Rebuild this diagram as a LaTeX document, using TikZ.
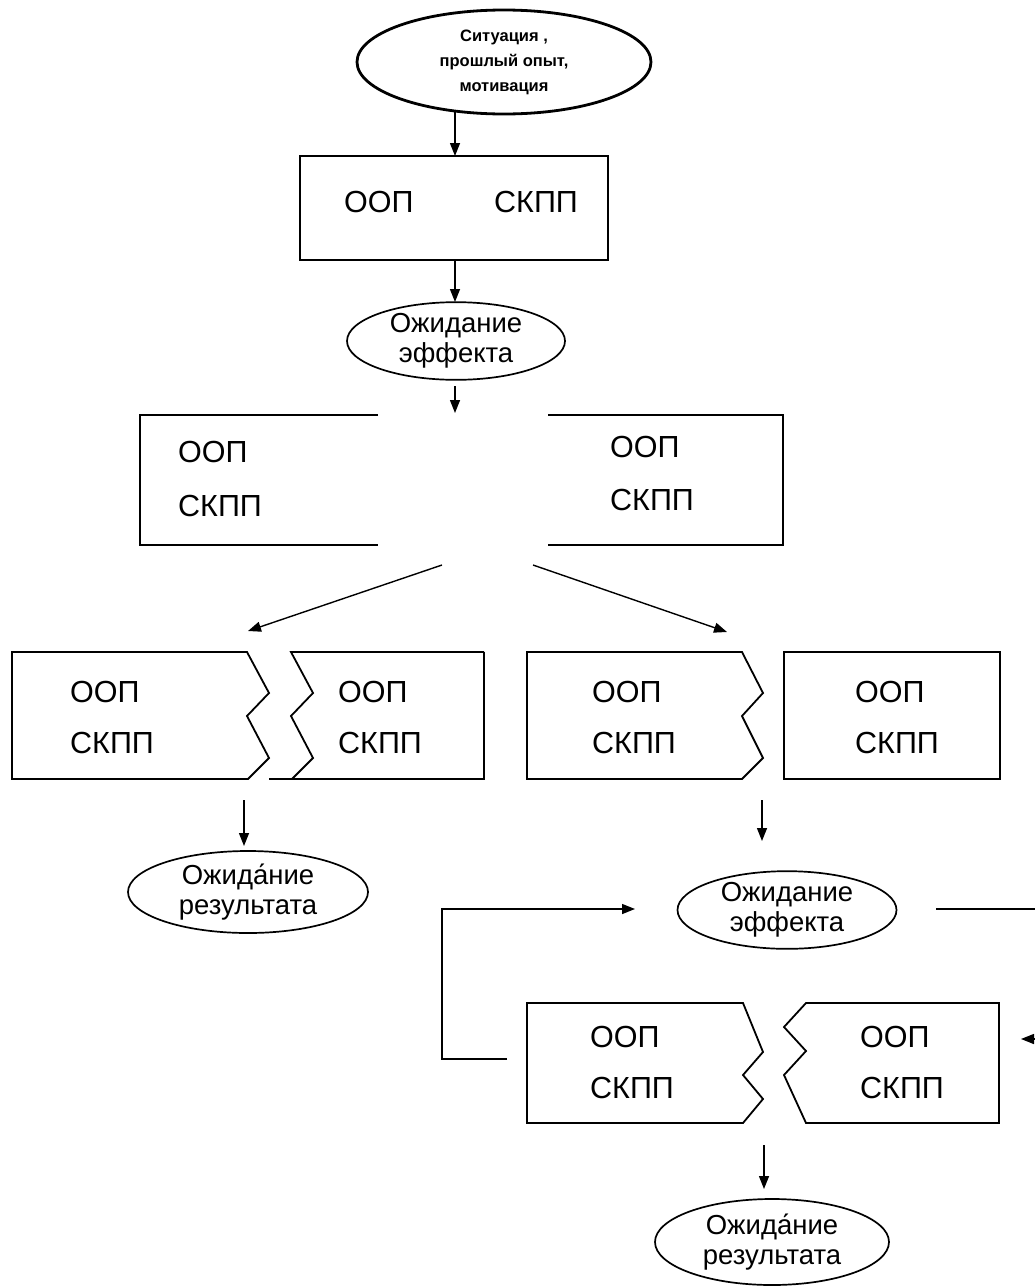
\documentclass[tikz,border=0pt]{standalone}
\usepackage{fontspec}
\setmainfont{Liberation Sans}
\usetikzlibrary{arrows.meta,shapes.geometric}
\begin{document}
\begin{tikzpicture}[x=1pt,y=-1pt,
  lbl/.style={font=\fontsize{30.5}{30}\selectfont, inner sep=0pt, anchor=west},
  eltxt/.style={ellipse, draw, line width=1.7pt, inner sep=0pt, align=center, font=\fontsize{27.5}{30}\selectfont},
  outline/.style={line width=1.8pt, line join=miter},
  arr/.style={-{Triangle[length=13pt,width=10pt]}, line width=1.4pt},
  plain/.style={line width=1.4pt}]
\fill[white] (0,0) rectangle (1035,1288);
\useasboundingbox (0,0) rectangle (1035,1288);

% top ellipse
\node[eltxt, line width=2.8pt, minimum width=294pt, minimum height=104pt,
      font=\bfseries\fontsize{16.5}{25}\selectfont] (sit) at (504,62) {Ситуация ,\\прошлый опыт,\\мотивация};
\coordinate (a1s) at (455,112);

% top box
\node[draw, outline, minimum width=308pt, minimum height=104pt] (bx1) at (454,208) {};
\node[lbl] (b1a) at (344,202) {ООП};
\node[lbl] (b1b) at (494,202) {СКПП};
\coordinate (a1e) at (455,156);
\coordinate (a2s) at (455,261);

% effect ellipse 1
\node[eltxt, minimum width=218pt, minimum height=77pt] (eff1) at (456,341) {Ожидание\\эффекта};
\coordinate (a2e) at (455,302);
\coordinate (a3s) at (455,386);
\coordinate (a3e) at (455,413);

% split box
\draw[outline] (378,415) -- (140,415) -- (140,545) -- (378,545);
\draw[outline] (548,415) -- (783,415) -- (783,545) -- (548,545);
\node[lbl] (s1a) at (178,452) {ООП};
\node[lbl] (s1b) at (178,506) {СКПП};
\node[lbl] (s2a) at (610,447) {ООП};
\node[lbl] (s2b) at (610,500) {СКПП};
\coordinate (dls) at (442,565);
\coordinate (dle) at (248,631);
\coordinate (drs) at (533,565);
\coordinate (dre) at (727,632);

% row 1
\draw[outline] (12,652) -- (247,652) -- (269,693) -- (247,716) -- (269,758) -- (248,779) -- (12,779) -- cycle;
\draw[outline] (484,652) -- (291,652) -- (313,693) -- (291,716) -- (313,758) -- (292,779);
\draw[outline] (484,652) -- (484,779) -- (269,779);
\draw[outline] (527,652) -- (742,652) -- (763,693) -- (742,716) -- (763,758) -- (742,779) -- (527,779) -- cycle;
\draw[outline] (784,652) rectangle (1000,779);
\node[lbl] (ra1) at (70,692) {ООП};
\node[lbl] (ra2) at (70,743) {СКПП};
\node[lbl] (rb1) at (338,692) {ООП};
\node[lbl] (rb2) at (338,743) {СКПП};
\node[lbl] (rc1) at (592,692) {ООП};
\node[lbl] (rc2) at (592,743) {СКПП};
\node[lbl] (rd1) at (855,692) {ООП};
\node[lbl] (rd2) at (855,743) {СКПП};
\coordinate (l1s) at (244,800);
\coordinate (l1e) at (244,846);
\coordinate (r1s) at (762,800);
\coordinate (r1e) at (762,841);

% left result ellipse
\node[eltxt, minimum width=240pt, minimum height=82pt] (resl) at (248,892) {Ожида́ние\\результата};

% right effect ellipse
\node[eltxt, minimum width=219pt, minimum height=76pt] (eff2) at (787,910) {Ожидание\\эффекта};

% last row
\draw[outline] (527,1003) -- (743,1003) -- (763,1052) -- (743,1075) -- (763,1099) -- (743,1123) -- (527,1123) -- cycle;
\draw[outline] (806,1003) -- (784,1027) -- (806,1051) -- (784,1075) -- (806,1123) -- (999,1123) -- (999,1003) -- cycle;
\node[lbl] (re1) at (590,1037) {ООП};
\node[lbl] (re2) at (590,1088) {СКПП};
\node[lbl] (rf1) at (860,1037) {ООП};
\node[lbl] (rf2) at (860,1088) {СКПП};

% feedback loop
\coordinate (fbl1) at (507,1059);
\coordinate (fbl2) at (442,1059);
\coordinate (fbl3) at (442,909);
\coordinate (fbl4) at (635,909);
\coordinate (fbr1) at (936,909);
\coordinate (fbr2) at (1035,909);
\coordinate (fbr3) at (1035,1039);
\coordinate (fbr4) at (1021,1039);
\coordinate (l2s) at (764,1145);
\coordinate (l2e) at (764,1189);

% bottom result ellipse
\node[eltxt, minimum width=234pt, minimum height=86pt] (resb) at (772,1242) {Ожида́ние\\результата};

% connectors
\draw[arr] (a1s) -- (a1e);
\draw[arr] (a2s) -- (a2e);
\draw[arr] (a3s) -- (a3e);
\draw[arr] (dls) -- (dle);
\draw[arr] (drs) -- (dre);
\draw[arr] (l1s) -- (l1e);
\draw[arr] (r1s) -- (r1e);
\draw[arr] (fbl1) -- (fbl2) -- (fbl3) -- (fbl4);
\draw[plain] (fbr1) -- (fbr2);
\draw[arr] (fbr3) -- (fbr4);
\draw[arr] (l2s) -- (l2e);
\end{tikzpicture}
\end{document}
